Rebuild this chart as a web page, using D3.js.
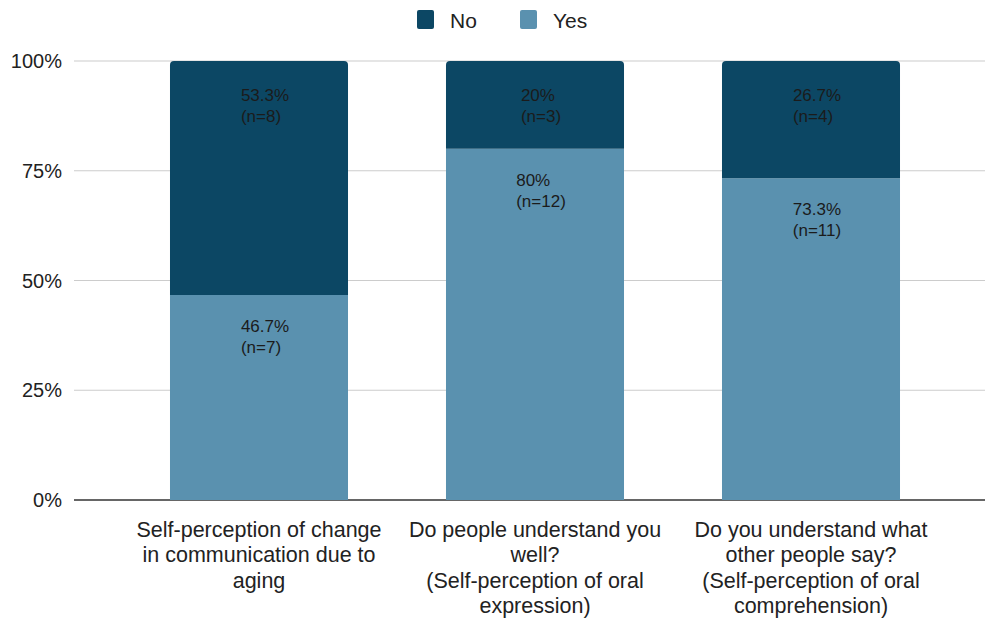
<!DOCTYPE html>
<html>
<head>
<meta charset="utf-8">
<script src="https://cdn.jsdelivr.net/npm/d3@7"></script>
<style>
  body { margin: 0; background: #fff; }
  svg { font-family: "Liberation Sans", Arial, sans-serif; }
</style>
</head>
<body>
<svg id="chart" width="988" height="622"></svg>
<script>
// data
var categories = [
    ["Self-perception of change", "in communication due to", "aging"],
    ["Do people understand you", "well?", "(Self-perception of oral", "expression)"],
    ["Do you understand what", "other people say?", "(Self-perception of oral", "comprehension)"]
];
var seriesNames = ["Yes", "No"];
var yesPct = [46.7, 80, 73.3];
var noPct = [53.3, 20, 26.7];
var yesN = [7, 12, 11];
var noN = [8, 3, 4];
var yesLabels = ["46.7%", "80%", "73.3%"];
var noLabels = ["53.3%", "20%", "26.7%"];
var yTicks = [0, 25, 50, 75, 100];

var colors = {No: "#0c4764", Yes: "#5a91af"};

var svg = d3.select("#chart");
var padding = {top: 61, right: 3, bottom: 122, left: 74};
var chartArea = {
    width: 988 - padding.left - padding.right,
    height: 622 - padding.top - padding.bottom
};

var xScale = d3.scaleBand()
    .domain(d3.range(categories.length))
    .range([121 - padding.left, 949 - padding.left])
    .paddingInner(0.355).paddingOuter(0.1775);
var yScale = d3.scaleLinear().domain([0, 100]).range([chartArea.height, 0]);

var g = svg.append("g").attr("transform", "translate(" + padding.left + "," + padding.top + ")");

// gridlines
g.selectAll(".grid").data(yTicks).enter()
    .append("line")
    .attr("x1", 0).attr("x2", chartArea.width)
    .attr("y1", function(d){ return yScale(d); })
    .attr("y2", function(d){ return yScale(d); })
    .attr("stroke", function(d){ return d === 0 ? "#333" : "#cccccc"; })
    .attr("stroke-width", function(d){ return d === 0 ? 1.3 : 1.2; });

// y tick labels
g.selectAll(".ytick").data(yTicks).enter()
    .append("text")
    .attr("x", -12)
    .attr("y", function(d){ return yScale(d); })
    .attr("dy", "0.36em")
    .attr("text-anchor", "end")
    .attr("font-size", 20)
    .attr("fill", "#222")
    .text(function(d){ return d + "%"; });

// stacked data
var rows = categories.map(function(c, i){
    return {i: i, Yes: yesPct[i], No: noPct[i]};
});
var stack = d3.stack().keys(seriesNames)(rows);

function topRounded(x, y0, y1, w, r) {
    return "M" + x + "," + y1 +
        "V" + (y0 + r) +
        "Q" + x + "," + y0 + " " + (x + r) + "," + y0 +
        "H" + (x + w - r) +
        "Q" + (x + w) + "," + y0 + " " + (x + w) + "," + (y0 + r) +
        "V" + y1 + "Z";
}

stack.forEach(function(layer){
    var key = layer.key;
    g.selectAll(".bar-" + key).data(layer).enter()
        .append("path")
        .attr("fill", colors[key])
        .attr("d", function(d, i){
            var r = key === "No" ? 4 : 0;
            return topRounded(xScale(i), yScale(d[1]), yScale(d[0]), xScale.bandwidth(), r);
        });
});

// data labels
stack.forEach(function(layer){
    var key = layer.key;
    var lab = key === "Yes" ? yesLabels : noLabels;
    var nn = key === "Yes" ? yesN : noN;
    var off = key === "No" ? 40 : 37;
    layer.forEach(function(d, i){
        var t = g.append("text")
            .attr("font-size", 17)
            .attr("fill", "#1b1b1b")
            .attr("y", yScale(d[1]) + off);
        var s1 = t.append("tspan").attr("x", 0).text(lab[i]);
        var s2 = t.append("tspan").attr("x", 0).attr("dy", 21).text("(n=" + nn[i] + ")");
        var w = Math.max(s1.node().getComputedTextLength(), s2.node().getComputedTextLength());
        var x0 = xScale(i) + xScale.bandwidth() / 2 - w / 2 + 6;
        t.selectAll("tspan").attr("x", x0);
    });
});

// category labels
categories.forEach(function(lines, i){
    var t = g.append("text")
        .attr("text-anchor", "middle")
        .attr("font-size", 21.5)
        .attr("fill", "#222")
        .attr("y", chartArea.height + 37);
    lines.forEach(function(line, k){
        t.append("tspan")
            .attr("x", xScale(i) + xScale.bandwidth() / 2)
            .attr("dy", k === 0 ? 0 : 25.3)
            .text(line);
    });
});

// legend
var legendItems = [{name: "No", x: 417}, {name: "Yes", x: 520}];
var legend = svg.append("g");
legendItems.forEach(function(it){
    legend.append("rect")
        .attr("x", it.x).attr("y", 10)
        .attr("width", 17).attr("height", 19)
        .attr("rx", 2)
        .attr("fill", colors[it.name]);
    legend.append("text")
        .attr("x", it.x + 33).attr("y", 20)
        .attr("dy", "0.36em")
        .attr("font-size", 21)
        .attr("fill", "#222")
        .text(it.name);
});
</script>
</body>
</html>
